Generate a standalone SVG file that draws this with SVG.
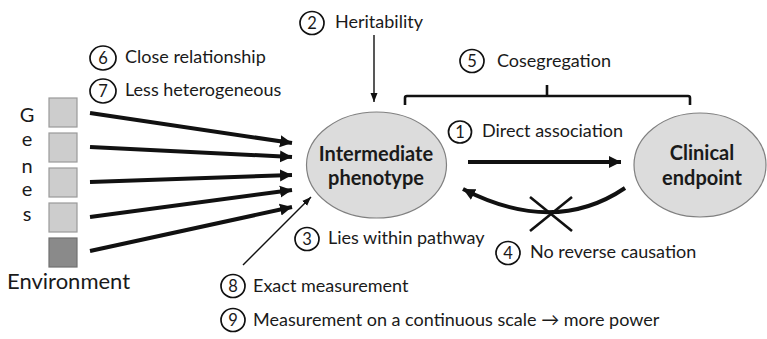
<svg xmlns="http://www.w3.org/2000/svg" width="767" height="339" viewBox="0 0 767 339">
  <style>
    text { font-family: Lato, "Open Sans", "Liberation Sans", sans-serif; fill: #1a1a1a; }
    .lbl { font-size: 18px; }
    .num { font-size: 16.5px; text-anchor: middle; }
    .gl { font-size: 20px; text-anchor: middle; }
    .big { font-size: 22px; }
    .node { font-size: 20px; font-weight: bold; text-anchor: middle; }
    .badge { fill: none; stroke: #111; stroke-width: 1.7; }
    .ell { fill: #dcdcdc; stroke: #808080; stroke-width: 1.2; }
    .gene { fill: #cdcdcd; stroke: #9a9a9a; stroke-width: 1.2; }
    .env { fill: #8a8a8a; stroke: #707070; stroke-width: 1.2; }
    .thick { stroke: #111; stroke-width: 4; fill: none; }
    .thin { stroke: #111; stroke-width: 1.4; fill: none; }
    .med { stroke: #111; stroke-width: 2.6; fill: none; }
  </style>
  <defs>
    <marker id="head" markerUnits="userSpaceOnUse" markerWidth="14" markerHeight="14" viewBox="0 0 14 14" refX="12" refY="7" orient="auto">
      <path d="M0,1 L12,7 L0,13 Z" fill="#111"/>
    </marker>
    <marker id="headS" markerUnits="userSpaceOnUse" markerWidth="10" markerHeight="10" viewBox="0 0 10 10" refX="9" refY="5" orient="auto">
      <path d="M0,1.5 L9,5 L0,8.5 Z" fill="#111"/>
    </marker>
  </defs>

  <!-- genes and environment column -->
  <g id="genes">
    <text class="gl" x="27" y="122">G</text>
    <text class="gl" x="27" y="146">e</text>
    <text class="gl" x="27" y="173">n</text>
    <text class="gl" x="27" y="196">e</text>
    <text class="gl" x="27" y="221">s</text>
    <rect class="gene" x="49" y="98" width="28" height="29"/>
    <rect class="gene" x="49" y="133" width="28" height="29"/>
    <rect class="gene" x="49" y="168" width="28" height="29"/>
    <rect class="gene" x="49" y="203" width="28" height="29"/>
  </g>
  <g id="environment">
    <rect class="env" x="49" y="238" width="28" height="29"/>
    <text class="big" x="7" y="289">Environment</text>
  </g>

  <!-- main nodes -->
  <g id="intermediate-phenotype">
    <ellipse class="ell" cx="376.5" cy="165" rx="70" ry="53"/>
    <text class="node" x="376" y="161">Intermediate</text>
    <text class="node" x="376" y="185">phenotype</text>
  </g>
  <g id="clinical-endpoint">
    <ellipse class="ell" cx="700" cy="165" rx="66" ry="52"/>
    <text class="node" x="702" y="160">Clinical</text>
    <text class="node" x="702" y="185">endpoint</text>
  </g>

  <!-- numbered criteria -->
  <g id="label-1">
    <ellipse class="badge" cx="460" cy="132" rx="11.5" ry="11"/>
    <text class="num" x="460" y="138">1</text>
    <text class="lbl" x="482" y="137">Direct association</text>
  </g>
  <g id="label-2">
    <ellipse class="badge" cx="312" cy="23" rx="12" ry="11.5"/>
    <text class="num" x="312" y="29">2</text>
    <text class="lbl" x="335" y="28">Heritability</text>
  </g>
  <g id="label-3">
    <ellipse class="badge" cx="307" cy="239" rx="12" ry="11.5"/>
    <text class="num" x="307" y="245">3</text>
    <text class="lbl" x="328" y="244">Lies within pathway</text>
  </g>
  <g id="label-4">
    <ellipse class="badge" cx="508" cy="253" rx="12" ry="11.5"/>
    <text class="num" x="508" y="259">4</text>
    <text class="lbl" x="530" y="258">No reverse causation</text>
  </g>
  <g id="label-5">
    <ellipse class="badge" cx="472" cy="61" rx="12" ry="11.5"/>
    <text class="num" x="472" y="67">5</text>
    <text class="lbl" x="497" y="67">Cosegregation</text>
  </g>
  <g id="label-6">
    <ellipse class="badge" cx="103" cy="58" rx="13" ry="12"/>
    <text class="num" x="103" y="64">6</text>
    <text class="lbl" x="125" y="63">Close relationship</text>
  </g>
  <g id="label-7">
    <ellipse class="badge" cx="103" cy="91" rx="13" ry="12"/>
    <text class="num" x="103" y="97">7</text>
    <text class="lbl" x="125" y="96">Less heterogeneous</text>
  </g>
  <g id="label-8">
    <ellipse class="badge" cx="233" cy="286" rx="12" ry="11.5"/>
    <text class="num" x="233" y="292">8</text>
    <text class="lbl" x="253" y="292">Exact measurement</text>
  </g>
  <g id="label-9">
    <ellipse class="badge" cx="233" cy="320" rx="12" ry="11.5"/>
    <text class="num" x="233" y="326">9</text>
    <text class="lbl" x="253" y="326">Measurement on a continuous scale → more power</text>
  </g>

  <!-- connectors -->
  <g id="connectors">
    <line class="thick" x1="90" y1="113" x2="292" y2="143" marker-end="url(#head)"/>
    <line class="thick" x1="90" y1="147" x2="292" y2="157" marker-end="url(#head)"/>
    <line class="thick" x1="90" y1="182" x2="292" y2="175" marker-end="url(#head)"/>
    <line class="thick" x1="90" y1="217" x2="292" y2="190" marker-end="url(#head)"/>
    <line class="thick" x1="90" y1="251" x2="292" y2="207" marker-end="url(#head)"/>
    <line class="thin" x1="374" y1="35" x2="374" y2="102" marker-end="url(#headS)"/>
    <line class="thin" x1="243" y1="265" x2="311" y2="197" marker-end="url(#headS)"/>
    <line class="thick" x1="468" y1="162" x2="621" y2="162" marker-end="url(#head)"/>
    <path class="thick" d="M625,188 Q554,236 463,189" marker-end="url(#head)"/>
    <line class="med" x1="530" y1="197" x2="572" y2="231"/>
    <line class="med" x1="572" y1="197" x2="530" y2="231"/>
    <path class="med" d="M405,105 V98 Q405,96 407,96 H688 Q690,96 690,98 V105 M547,96 V85"/>
  </g>
</svg>
